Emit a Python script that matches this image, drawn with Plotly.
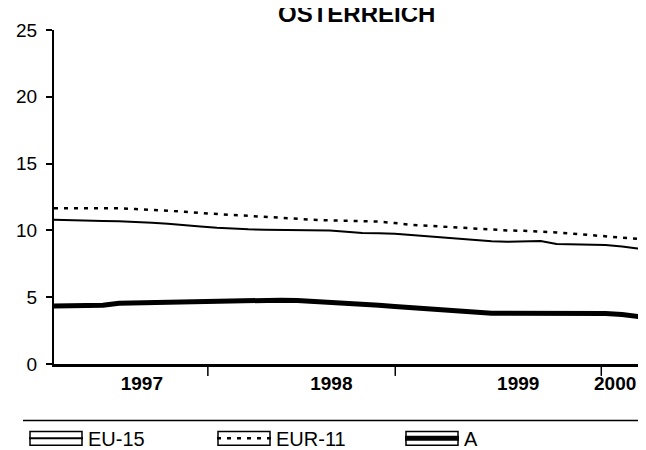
import plotly.graph_objects as go
import pandas as pd

# Monthly data, March 1997 - April 2000
months = pd.date_range("1997-03-01", "2000-04-01", freq="MS").strftime("%Y-%m-%d").tolist()

eu15 = [10.8, 10.75, 10.72, 10.7, 10.68, 10.65, 10.58, 10.5, 10.42, 10.3,
        10.2, 10.12, 10.08, 10.05, 10.04, 10.02, 10.0, 10.0, 9.9, 9.8,
        9.78, 9.75, 9.65, 9.55, 9.47, 9.4, 9.25, 9.18, 9.15, 9.17,
        9.2, 8.98, 8.95, 8.92, 8.9, 8.8, 8.65, 8.6]
eur11 = [11.65, 11.65, 11.7, 11.7, 11.65, 11.6, 11.55, 11.47, 11.4, 11.3,
         11.22, 11.15, 11.1, 11.02, 10.95, 10.88, 10.8, 10.75, 10.72, 10.7,
         10.66, 10.55, 10.42, 10.35, 10.28, 10.2, 10.1, 10.02, 10.0, 9.97,
         9.93, 9.85, 9.75, 9.65, 9.57, 9.48, 9.37, 9.27]
austria = [4.35, 4.36, 4.38, 4.4, 4.55, 4.58, 4.58, 4.6, 4.68, 4.7,
           4.7, 4.72, 4.8, 4.8, 4.78, 4.76, 4.7, 4.6, 4.55, 4.5,
           4.4, 4.3, 4.2, 4.1, 4.02, 3.95, 3.88, 3.8, 3.8, 3.8,
           3.78, 3.78, 3.78, 3.78, 3.78, 3.7, 3.55, 3.4]

year_label_pos = ["1997-08-13", "1998-08-04", "1999-07-21", "2000-01-19"]
year_labels = ["1997", "1998", "1999", "2000"]
year_separators = ["1997-12-15", "1998-12-02", "1999-12-24"]
y_ticks = [0, 5, 10, 15, 20, 25]

L, T, B, W, H = 46, 22, 91, 646, 450
PW, PH = W - L, H - T - B


def px(x):
    return (x - L) / PW


def py(y):
    return (H - B - y) / PH


fig = go.Figure()
fig.add_trace(go.Scatter(x=months, y=eu15, name="EU-15", mode="lines",
                         line=dict(color="black", width=2)))
fig.add_trace(go.Scatter(x=months, y=eur11, name="EUR-11", mode="lines",
                         line=dict(color="black", width=2.5, dash="4px,6px")))
fig.add_trace(go.Scatter(x=months, y=austria, name="A", mode="lines",
                         line=dict(color="black", width=5)))

shapes = []
for d in year_separators:
    shapes.append(dict(type="line", xref="x", yref="paper", x0=d, x1=d,
                       y0=0, y1=py(371), line=dict(color="black", width=1.5)))
# separator rule above legend
shapes.append(dict(type="line", xref="paper", yref="paper", x0=px(15), x1=1,
                   y0=py(416), y1=py(416), line=dict(color="black", width=1.5)))
# boxes around legend symbols
LEG_X, ITEM_W, STEP = 16, 54, 188
for i in range(3):
    s = LEG_X + 5 + i * STEP
    shapes.append(dict(type="rect", xref="paper", yref="paper", x0=px(s + 1), x1=px(s + ITEM_W - 1),
                       y0=py(441), y1=py(427), line=dict(color="black", width=1.5)))

fig.update_layout(
    width=W, height=H,
    margin=dict(l=L, r=0, t=T, b=B),
    paper_bgcolor="white", plot_bgcolor="white",
    font=dict(family="Liberation Sans, Arial, sans-serif", color="black", size=18),
    showlegend=True,
    legend=dict(orientation="h", x=px(LEG_X), xanchor="left", y=py(434), yanchor="middle",
                entrywidth=STEP - ITEM_W - 15, entrywidthmode="pixels", itemwidth=ITEM_W,
                font=dict(size=20), bgcolor="rgba(0,0,0,0)"),
    shapes=shapes,
    annotations=[dict(text="<b>ÖSTERREICH</b>", xref="paper", yref="paper",
                      x=px(348), y=py(21), xanchor="center", yanchor="bottom",
                      showarrow=False, font=dict(size=24))],
)
fig.update_xaxes(range=[months[0], months[-1]], tickvals=year_label_pos, ticktext=year_labels,
                 ticks="", showgrid=False, zeroline=False, showline=True,
                 linecolor="black", linewidth=2.5,
                 tickfont=dict(size=19, weight="bold"))
fig.update_yaxes(range=[0, 25], tickvals=y_ticks, ticks="outside", ticklen=6, tickwidth=1.5,
                 tickcolor="black", showgrid=False, zeroline=False, showline=True,
                 linecolor="black", linewidth=2, tickfont=dict(size=19),
                 ticklabelstandoff=5)

fig.write_html("out.html")
